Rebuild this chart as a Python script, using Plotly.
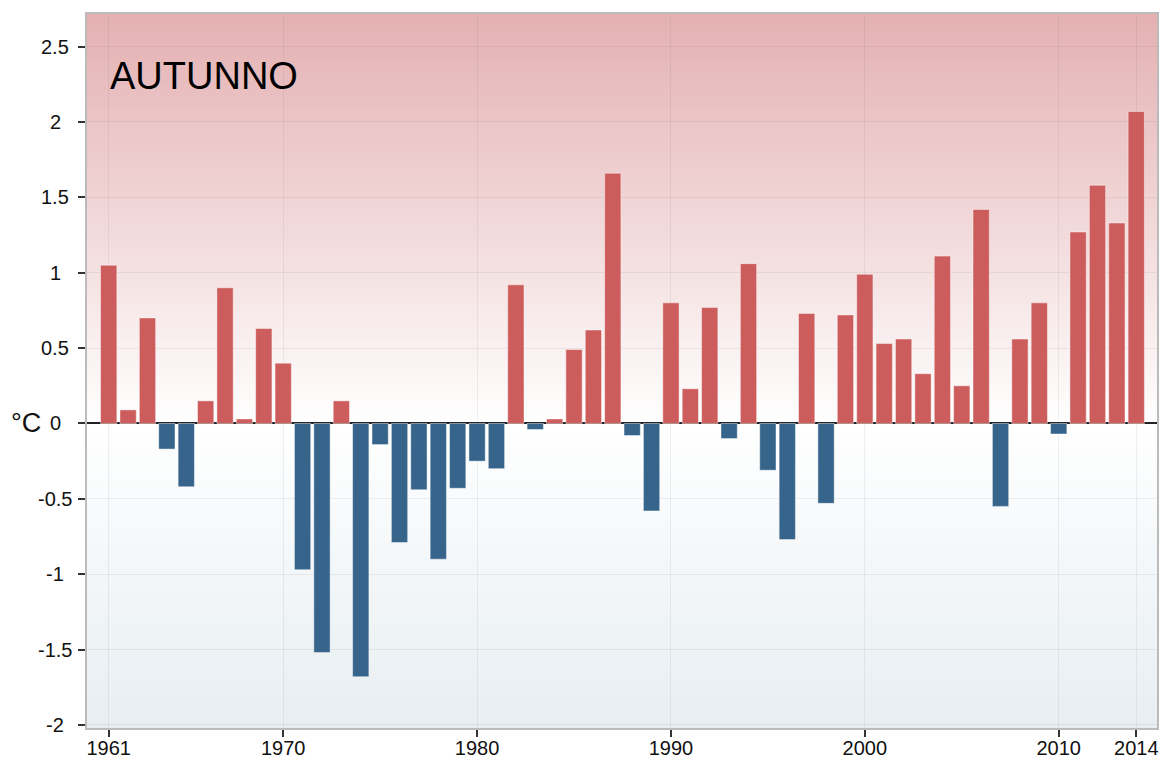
import base64
import struct
import zlib

import plotly.graph_objects as go

# ---------------- data ----------------
years = list(range(1961, 2015))
anomalies = [
    1.05, 0.09, 0.70, -0.17, -0.42, 0.15, 0.90, 0.03, 0.63, 0.40,      # 1961-1970
    -0.97, -1.52, 0.15, -1.68, -0.14, -0.79, -0.44, -0.90, -0.43, -0.25,  # 1971-1980
    -0.30, 0.92, -0.04, 0.03, 0.49, 0.62, 1.66, -0.08, -0.58, 0.80,    # 1981-1990
    0.23, 0.77, -0.10, 1.06, -0.31, -0.77, 0.73, -0.53, 0.72, 0.99,    # 1991-2000
    0.53, 0.56, 0.33, 1.11, 0.25, 1.42, -0.55, 0.56, 0.80, -0.07,      # 2001-2010
    1.27, 1.58, 1.33, 2.07,                                             # 2011-2014
]
x_tick_vals = [1961, 1970, 1980, 1990, 2000, 2010, 2014]
y_tick_vals = [2.5, 2, 1.5, 1, 0.5, 0, -0.5, -1, -1.5, -2]
y_tick_text = ["2.5", "2", "1.5", "1", "0.5", "0", "-0.5", "-1", "-1.5", "-2"]
season_label = "AUTUNNO"
unit_label = "°C"

# ---------------- style ----------------
RED = "#CD5C5C"
BLUE = "#36648B"
TOP_COL = (228, 176, 178)
BOT_COL = (231, 238, 242)
WHITE = (255, 255, 255)
FONT = "Liberation Sans, Arial, Helvetica, sans-serif"
TICK_SIZE = 20

X_RANGE = [1959.88, 2015.07]
Y_RANGE = [-2.02, 2.716]

W, H = 1162, 761
ML, MR, MT, MB = 87, 5, 14, 33
plot_w = W - ML - MR


def make_png(rows, width=2):
    raw = b"".join(b"\x00" + bytes(c) * width for c in rows)

    def chunk(t, d):
        return struct.pack(">I", len(d)) + t + d + struct.pack(">I", zlib.crc32(t + d) & 0xFFFFFFFF)

    png = (b"\x89PNG\r\n\x1a\n"
           + chunk(b"IHDR", struct.pack(">IIBBBBB", width, len(rows), 8, 2, 0, 0, 0))
           + chunk(b"IDAT", zlib.compress(raw, 9))
           + chunk(b"IEND", b""))
    return "data:image/png;base64," + base64.b64encode(png).decode()


def mix(a, b, t):
    return tuple(int(round(a[i] * (1 - t) + b[i] * t)) for i in range(3))


# vertical background gradient: pink above zero, bluish-grey below
n_rows = 500
grad_rows = []
for i in range(n_rows):
    yv = Y_RANGE[1] - (Y_RANGE[1] - Y_RANGE[0]) * (i + 0.5) / n_rows
    if yv >= 0:
        grad_rows.append(mix(WHITE, TOP_COL, yv / Y_RANGE[1]))
    else:
        grad_rows.append(mix(WHITE, BOT_COL, yv / Y_RANGE[0]))
bg_uri = make_png(grad_rows)

colors = [RED if v >= 0 else BLUE for v in anomalies]

fig = go.Figure()
fig.add_trace(go.Bar(
    x=years, y=anomalies, width=0.84,
    marker=dict(color=colors, line=dict(color="rgba(255,255,255,0.45)", width=1)),
    showlegend=False, hoverinfo="x+y",
))

fig.add_layout_image(dict(
    source=bg_uri, xref="x", yref="y",
    x=X_RANGE[0], y=Y_RANGE[1],
    sizex=X_RANGE[1] - X_RANGE[0], sizey=Y_RANGE[1] - Y_RANGE[0],
    xanchor="left", yanchor="top", sizing="stretch", layer="below",
))

annotations = []
label_x = (55 - ML) / plot_w
for v, t in zip(y_tick_vals, y_tick_text):
    annotations.append(dict(
        xref="paper", yref="y", x=label_x, y=v, text=t, showarrow=False,
        xanchor="center", yanchor="middle",
        font=dict(family=FONT, size=TICK_SIZE, color="#111111"),
    ))
annotations.append(dict(
    xref="paper", yref="y", x=(26 - ML) / plot_w, y=0, text=unit_label, showarrow=False,
    xanchor="center", yanchor="middle", font=dict(family=FONT, size=27, color="#111111"),
))
annotations.append(dict(
    xref="paper", yref="paper", x=(108 - ML) / plot_w, y=(H - MB - 76) / (H - MT - MB),
    text=season_label, showarrow=False, xanchor="left", yanchor="middle",
    font=dict(family=FONT, size=38, color="#000000"),
))

fig.update_layout(
    width=W, height=H,
    margin=dict(l=ML, r=MR, t=MT, b=MB, pad=0, autoexpand=False),
    paper_bgcolor="white",
    plot_bgcolor="rgba(0,0,0,0)",
    annotations=annotations,
    font=dict(family=FONT, size=TICK_SIZE, color="#111111"),
    xaxis=dict(
        range=X_RANGE, tickmode="array", tickvals=x_tick_vals,
        ticktext=[str(v) for v in x_tick_vals], automargin=False,
        ticks="outside", ticklen=7, tickwidth=2, tickcolor="#333333",
        ticklabelstandoff=-6,
        showgrid=True, gridcolor="rgba(90,90,90,0.09)", gridwidth=1,
        showline=True, linecolor="#BBBBBB", linewidth=2, mirror=True,
        zeroline=False, tickfont=dict(family=FONT, size=TICK_SIZE, color="#111111"),
    ),
    yaxis=dict(
        range=Y_RANGE, tickmode="array", tickvals=y_tick_vals, showticklabels=False,
        automargin=False,
        ticks="outside", ticklen=7, tickwidth=2, tickcolor="#333333",
        showgrid=True, gridcolor="rgba(90,90,90,0.09)", gridwidth=1,
        showline=True, linecolor="#BBBBBB", linewidth=2, mirror=True,
        zeroline=True, zerolinecolor="#222222", zerolinewidth=2,
    ),
)

fig.write_html(
    "out.html",
    config={"displayModeBar": False},
    post_script="document.body.style.margin='0';document.body.style.overflow='hidden';",
)
